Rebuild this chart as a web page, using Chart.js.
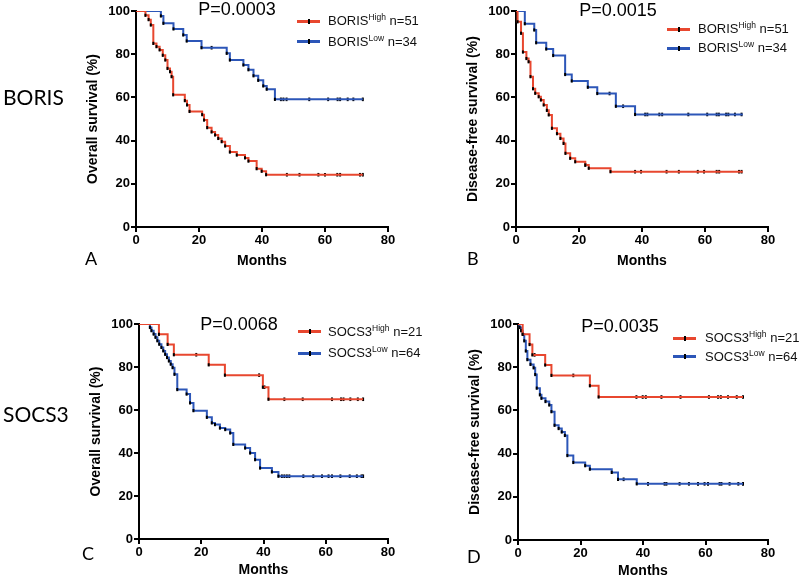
<!DOCTYPE html>
<html>
<head>
<meta charset="utf-8">
<script src="https://cdn.jsdelivr.net/npm/chart.js@4.4.1/dist/chart.umd.min.js"></script>
<style>
  html, body { margin: 0; padding: 0; background: #fff; }
  #page { position: relative; width: 800px; height: 582px; overflow: hidden; background: #fff; font-family: "Liberation Sans", Arial, sans-serif; }
  canvas { position: absolute; }
  .txt { position: absolute; white-space: nowrap; color: #000; }
  .pval { font-size: 18px; line-height: 18px; transform: translateX(-50%); }
  .row { position: absolute; height: 14px; line-height: 14px; font-size: 13px; white-space: nowrap; color: #111; }
  .row .mk { position: absolute; top: 5.5px; height: 3px; width: 23px; }
  .row .mk i { position: absolute; left: 10.5px; top: -1px; width: 2px; height: 5px; background: #000; }
  .row span.t { position: absolute; }
  .row sup { font-size: 8.5px; vertical-align: 0; position: relative; top: -5px; }
  .side { font-family: Lato, "Open Sans", sans-serif; font-size: 21px; line-height: 21px; }
  .letter { font-family: Lato, "Open Sans", sans-serif; font-size: 18px; line-height: 18px; }
</style>
</head>
<body>
<div id="page">
  <canvas id="chartA" width="340" height="290" style="left:60px;top:0px"></canvas>
  <canvas id="chartB" width="340" height="290" style="left:440px;top:0px"></canvas>
  <canvas id="chartC" width="337" height="292" style="left:63px;top:290px"></canvas>
  <canvas id="chartD" width="338" height="292" style="left:442px;top:290px"></canvas>

  <div class="txt side" style="left:3px;top:86px">BORIS</div>
  <div class="txt side" style="left:3px;top:403px">SOCS3</div>
  <div class="txt letter" style="left:85px;top:249px">A</div>
  <div class="txt letter" style="left:467px;top:249px">B</div>
  <div class="txt letter" style="left:82px;top:544px">C</div>
  <div class="txt letter" style="left:467px;top:547px">D</div>

  <div class="txt pval" style="left:237px;top:0px">P=0.0003</div>
  <div class="txt pval" style="left:618px;top:1px">P=0.0015</div>
  <div class="txt pval" style="left:239px;top:315px">P=0.0068</div>
  <div class="txt pval" style="left:620px;top:317px">P=0.0035</div>

  <div id="legends"></div>
</div>

<script>
const RED = "#e8472f";
const BLUE = "#2c56b8";
const FONT = "'Liberation Sans', Arial, sans-serif";

const xTicks = [0, 20, 40, 60, 80];
const yTicks = [0, 20, 40, 60, 80, 100];

// A: overall survival, BORIS
const osBorisHighT = [0, 3, 4, 4.7, 5.5, 6.5, 7.5, 8.5, 9.3, 10, 10.8, 11.3, 11.8, 15.5, 16.2, 17, 21, 21.6, 22.6, 24, 25.1, 26.1, 27.2, 28.3, 29.8, 32, 34.6, 35.7, 38.3, 39.9, 41.3, 72];
const osBorisHighS = [100, 98, 96, 93.5, 85, 83.5, 82, 79.5, 77.3, 73.4, 71.9, 69.6, 61.2, 58.5, 56.5, 53.5, 52, 49.5, 46, 44, 42.6, 41, 39.5, 37.5, 34.7, 33.3, 32, 30.5, 27, 25.8, 24.2, 24.2];
const osBorisHighCens = [47.9, 51.9, 57.9, 60, 63.9, 64.8, 71.1, 72];
const osBorisLowT = [0, 7.9, 8.7, 11.9, 15, 16.1, 20.8, 28.8, 29.8, 34.1, 35.7, 37.3, 38.8, 40.4, 41.5, 44.1, 72];
const osBorisLowS = [100, 97.7, 94.3, 91.7, 88.9, 86.1, 83, 80.4, 77.3, 75, 72.8, 70, 67.9, 65.3, 63.8, 59.1, 59.1];
const osBorisLowCens = [24, 46, 46.8, 47.8, 55, 61, 64, 64.8, 67.2, 69, 72];

// B: disease-free survival, BORIS
const dfsBorisHighT = [0, 0.5, 1.6, 2.2, 3.3, 4, 4.6, 5.4, 6.1, 7.2, 7.9, 8.8, 9.8, 10.4, 11.4, 13, 14.1, 15.1, 15.7, 17.2, 18.8, 22, 23.1, 30, 72];
const dfsBorisHighS = [100, 95, 89.7, 81, 78, 76.5, 69.6, 64, 61.9, 60.3, 58.8, 56.5, 54, 51.9, 45.7, 43.2, 41, 38.7, 34.1, 31.8, 30.2, 28.7, 27.2, 25.6, 25.6];
const dfsBorisHighCens = [22, 37.8, 39.7, 47.8, 51.7, 57.7, 59.7, 63.7, 64.5, 70.8, 71.6];
const dfsBorisLowT = [0, 2.8, 5.8, 6.4, 9.6, 11.8, 15.6, 17.7, 22.8, 25.8, 31.7, 37.8, 72];
const dfsBorisLowS = [100, 94.1, 91.2, 85.3, 82.4, 79.4, 70.6, 67.6, 64.7, 61.8, 55.9, 52.1, 52.1];
const dfsBorisLowCens = [29.7, 34, 41, 41.7, 45.5, 46.4, 54.7, 60.7, 63.7, 64.4, 66.7, 67.4, 69.5, 71.6];

// C: overall survival, SOCS3
const osSocsHighT = [0, 6.4, 9.2, 11.2, 22.4, 27.6, 39.8, 41.6, 72];
const osSocsHighS = [100, 95.2, 90.5, 85.7, 81, 76.2, 70.6, 65, 65];
const osSocsHighCens = [18.4, 38.6, 40.3, 46.7, 52.6, 62, 64.9, 65.7, 67.9, 70.3, 72];
const osSocsLowT = [0, 3.5, 4, 4.7, 5.3, 5.9, 6.5, 7.2, 7.8, 8.4, 9, 9.6, 10.2, 10.8, 11.4, 12.3, 15.3, 16.4, 17.5, 21.8, 23.4, 24.4, 26, 27.7, 29.3, 30.3, 34.1, 35.7, 37.3, 38.9, 42.7, 44.8, 72];
const osSocsLowS = [100, 98.4, 96.9, 95.3, 93.8, 92.2, 90.6, 89.1, 87.5, 85.9, 84.4, 82.8, 81.3, 79.7, 76.6, 69.5, 67.4, 63.3, 59.7, 56.6, 54, 53.2, 51.6, 50.9, 49.3, 44, 42.3, 40, 36.9, 33, 31.2, 29.2, 29.2];
const osSocsLowCens = [45.9, 46.7, 47.5, 48.3, 52.8, 56, 58.8, 60.9, 62, 64.7, 67.7, 70, 71.5, 72];

// D: disease-free survival, SOCS3
const dfsSocsHighT = [0, 1.5, 3.7, 4.6, 8.7, 10.7, 23, 25.8, 72];
const dfsSocsHighS = [100, 95.2, 90.5, 85.7, 81, 76.2, 71.4, 66.2, 66.2];
const dfsSocsHighCens = [5.3, 17.7, 37.9, 39.9, 40.9, 45.9, 52, 61.1, 64, 64.9, 67.2, 70, 72];
const dfsSocsLowT = [0, 0.5, 1, 1.5, 2, 2.5, 3, 4, 5, 5.5, 6, 7, 7.5, 8.8, 10, 10.7, 11.7, 13, 14, 15, 15.8, 17.7, 21.5, 23, 30, 32, 38, 72];
const dfsSocsLowS = [100, 98.4, 96.9, 95.3, 92.2, 87.5, 83.5, 81.3, 79.7, 76.6, 70.3, 67.2, 65.6, 64.1, 62.5, 59.4, 53.1, 51.6, 50, 48.4, 39.1, 35.9, 34.4, 32.8, 31.3, 28.1, 26, 26];
const dfsSocsLowCens = [33.8, 41.6, 46.9, 47.5, 51.7, 54.7, 57.6, 59.7, 60.8, 64.5, 65.1, 67.7, 70.5, 72];

function survAt(t, s, x) {
  let v = s[0];
  for (let i = 0; i < t.length; i++) {
    if (t[i] <= x) v = s[i];
  }
  return v;
}

function curveSets(t, s, cens, color) {
  const line = {
    data: t.map((x, i) => ({ x: x, y: s[i] })),
    borderColor: color,
    borderWidth: 2,
    stepped: true,
    fill: false,
    pointStyle: "line",
    rotation: 90,
    pointRadius: t.map((x, i) => (i === 0 || i === t.length - 1) ? 0 : 1.6),
    pointBorderColor: "#000",
    pointBorderWidth: 2
  };
  const marks = {
    data: cens.map(x => ({ x: x, y: survAt(t, s, x) })),
    showLine: false,
    pointStyle: "line",
    rotation: 90,
    pointRadius: 1.8,
    pointBorderColor: "#000",
    pointBorderWidth: 2,
    borderColor: "#000"
  };
  return [line, marks];
}

function makePanel(id, yTitle, sets, pad, yWidth, xHeight, titleBottom) {
  const ctx = document.getElementById(id).getContext("2d");
  return new Chart(ctx, {
    type: "line",
    data: { datasets: sets },
    options: {
      responsive: false,
      animation: false,
      events: [],
      layout: { padding: pad },
      plugins: { legend: { display: false }, tooltip: { enabled: false } },
      scales: {
        x: {
          type: "linear",
          min: xTicks[0],
          max: xTicks[xTicks.length - 1],
          afterBuildTicks: s => { s.ticks = xTicks.map(v => ({ value: v })); },
          ticks: { color: "#000", padding: 1, font: { family: FONT, size: 13, weight: "bold" } },
          grid: { drawOnChartArea: false, drawTicks: true, tickLength: 5, color: "#000", lineWidth: 2 },
          border: { color: "#000", width: 2 },
          title: { display: true, text: "Months", color: "#000", padding: { top: 0, bottom: titleBottom }, font: { family: FONT, size: 14, weight: "bold" } },
          afterFit: s => { s.height = xHeight; }
        },
        y: {
          type: "linear",
          min: yTicks[0],
          max: yTicks[yTicks.length - 1],
          afterBuildTicks: s => { s.ticks = yTicks.map(v => ({ value: v })); },
          ticks: { color: "#000", padding: 1, font: { family: FONT, size: 13, weight: "bold" } },
          grid: { drawOnChartArea: false, drawTicks: true, tickLength: 5, color: "#000", lineWidth: 2 },
          border: { color: "#000", width: 2 },
          title: { display: true, text: yTitle, color: "#000", padding: { top: 25, bottom: 0 }, font: { family: FONT, size: 14, weight: "bold" } },
          afterFit: s => { s.width = yWidth; }
        }
      }
    }
  });
}

makePanel("chartA", "Overall survival (%)",
  [...curveSets(osBorisHighT, osBorisHighS, osBorisHighCens, RED), ...curveSets(osBorisLowT, osBorisLowS, osBorisLowCens, BLUE)],
  { top: 11, right: 12, left: 0, bottom: 0 }, 76, 63, 20.6);

makePanel("chartB", "Disease-free survival (%)",
  [...curveSets(dfsBorisHighT, dfsBorisHighS, dfsBorisHighCens, RED), ...curveSets(dfsBorisLowT, dfsBorisLowS, dfsBorisLowCens, BLUE)],
  { top: 11, right: 12, left: 0, bottom: 0 }, 76, 63, 20.6);

makePanel("chartC", "Overall survival (%)",
  [...curveSets(osSocsHighT, osSocsHighS, osSocsHighCens, RED), ...curveSets(osSocsLowT, osSocsLowS, osSocsLowCens, BLUE)],
  { top: 34, right: 12, left: 0, bottom: 0 }, 76, 43, 3.6);

makePanel("chartD", "Disease-free survival (%)",
  [...curveSets(dfsSocsHighT, dfsSocsHighS, dfsSocsHighCens, RED), ...curveSets(dfsSocsLowT, dfsSocsLowS, dfsSocsLowCens, BLUE)],
  { top: 34, right: 12, left: 0, bottom: 0 }, 76, 42, 2.6);

// legends (html so the superscripts stay real text)
const legendRows = [
  { x: 297, tx: 328, y: 21, color: RED, name: "BORIS", sup: "High", n: "n=51" },
  { x: 297, tx: 328, y: 41.7, color: BLUE, name: "BORIS", sup: "Low", n: "n=34" },
  { x: 667, tx: 698, y: 29.3, color: RED, name: "BORIS", sup: "High", n: "n=51" },
  { x: 667, tx: 698, y: 48, color: BLUE, name: "BORIS", sup: "Low", n: "n=34" },
  { x: 298, tx: 328, y: 331.7, color: RED, name: "SOCS3", sup: "High", n: "n=21" },
  { x: 298, tx: 328, y: 353.3, color: BLUE, name: "SOCS3", sup: "Low", n: "n=64" },
  { x: 673, tx: 705, y: 338.3, color: RED, name: "SOCS3", sup: "High", n: "n=21" },
  { x: 673, tx: 705, y: 356.7, color: BLUE, name: "SOCS3", sup: "Low", n: "n=64" }
];

const box = document.getElementById("legends");
legendRows.forEach(r => {
  const row = document.createElement("div");
  row.className = "row";
  row.style.left = r.x + "px";
  row.style.top = (r.y - 7) + "px";
  row.innerHTML = `<div class="mk" style="left:0;background:${r.color}"><i></i></div>` +
    `<span class="t" style="left:${r.tx - r.x}px">${r.name}<sup>${r.sup}</sup> ${r.n}</span>`;
  box.appendChild(row);
});
</script>
</body>
</html>
